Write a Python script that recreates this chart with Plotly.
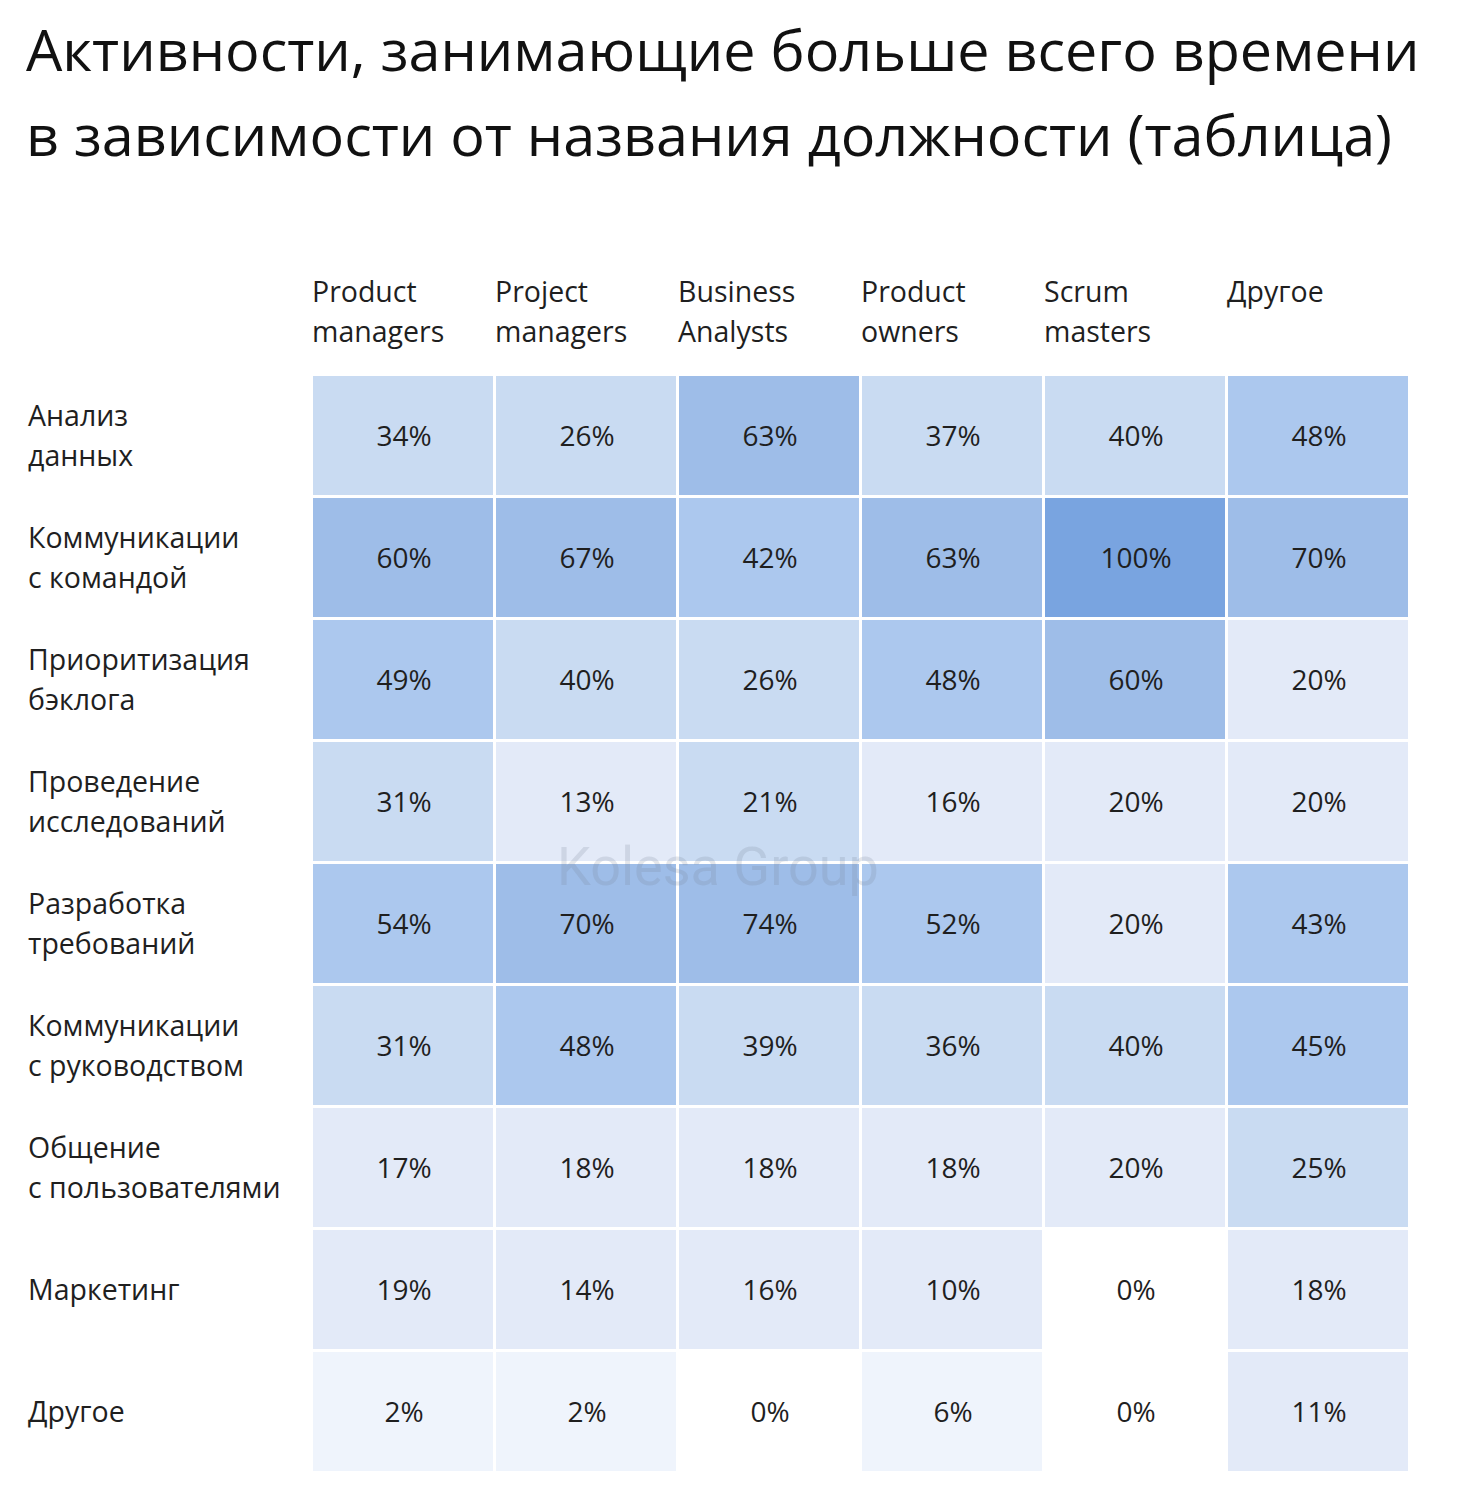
import plotly.graph_objects as go

# Job titles (columns)
roles = ["Product\nmanagers", "Project\nmanagers", "Business\nAnalysts",
         "Product\nowners", "Scrum\nmasters", "Другое"]

# Activities (rows)
activities = ["Анализ\nданных", "Коммуникации\nс командой", "Приоритизация\nбэклога",
              "Проведение\nисследований", "Разработка\nтребований",
              "Коммуникации\nс руководством", "Общение\nс пользователями",
              "Маркетинг", "Другое"]

# Share of respondents, %, one row per activity
values = [
    [34, 26, 63, 37, 40, 48],
    [60, 67, 42, 63, 100, 70],
    [49, 40, 26, 48, 60, 20],
    [31, 13, 21, 16, 20, 20],
    [54, 70, 74, 52, 20, 43],
    [31, 48, 39, 36, 40, 45],
    [17, 18, 18, 18, 20, 25],
    [19, 14, 16, 10, 0, 18],
    [2, 2, 0, 6, 0, 11],
]

title_lines = ["Активности, занимающие больше всего времени",
               "в зависимости от названия должности (таблица)"]

W, H = 1462, 1510
OFF = 8  # page body margin
L, T = 312 - OFF, 375 - OFF
R = W - (1410 - OFF)
B = H - (1473 - OFF)
FONT = "Open Sans"
TXT = "#1f1f1f"

# stepped blue scale
steps = [
    (0.000, 0.005, "#ffffff"),
    (0.005, 0.095, "#eff4fc"),
    (0.095, 0.205, "#e3eaf8"),
    (0.205, 0.405, "#c9dbf2"),
    (0.405, 0.550, "#acc8ee"),
    (0.550, 0.800, "#9ebde8"),
    (0.800, 1.000, "#79a4e0"),
]
colorscale = []
for a, b, c in steps:
    colorscale += [[a, c], [b, c]]

fig = go.Figure(go.Heatmap(
    z=values,
    x=list(range(len(roles))),
    y=list(range(len(activities))),
    zmin=0, zmax=100,
    colorscale=colorscale,
    showscale=False,
    xgap=3, ygap=3,
    texttemplate="%{z}%",
    textfont=dict(family=FONT, size=28, color=TXT),
    hoverinfo="skip",
))

ann = []
plot_w = W - L - R
plot_h = H - T - B
lab_x = (28 - OFF - L) / plot_w

# column headers
for i, r in enumerate(roles):
    for k, line in enumerate(r.split("\n")):
        ann.append(dict(x=i - 0.5, xref="x", y=1, yref="paper",
                        xanchor="left", yanchor="middle", yshift=84 - 40 * k, xshift=-2,
                        text=line, showarrow=False,
                        font=dict(family=FONT, size=28.5, color=TXT)))

# row labels
for j, a in enumerate(activities):
    parts = a.split("\n")
    for k, line in enumerate(parts):
        off = 0 if len(parts) == 1 else (20 - 40 * k)
        ann.append(dict(x=lab_x, xref="paper", y=j, yref="y",
                        xanchor="left", yanchor="middle", yshift=off + 1, xshift=-2,
                        text=line, showarrow=False,
                        font=dict(family=FONT, size=28.5, color=TXT)))

# title
for k, line in enumerate(title_lines):
    ann.append(dict(x=lab_x, xref="paper", y=1, yref="paper",
                    xanchor="left", yanchor="middle", yshift=(375 - 49) - 85 * k, xshift=-4,
                    text=line, showarrow=False,
                    font=dict(family=FONT, size=57.5, color="#111111")))

# watermark
ann.append(dict(x=(718 - OFF - L) / plot_w, xref="paper",
                y=1 - (866 - OFF - T) / plot_h, yref="paper",
                text="Kolesa Group", showarrow=False,
                font=dict(family="Roboto", size=54, color="rgba(120,130,150,0.2)")))

fig.update_layout(
    width=W, height=H,
    margin=dict(l=L, r=R, t=T, b=B),
    paper_bgcolor="white", plot_bgcolor="white",
    xaxis=dict(range=[-0.5, 5.5], visible=False, fixedrange=True),
    yaxis=dict(range=[8.5, -0.5], visible=False, fixedrange=True),
    annotations=ann,
)

fig.write_html("out.html")
